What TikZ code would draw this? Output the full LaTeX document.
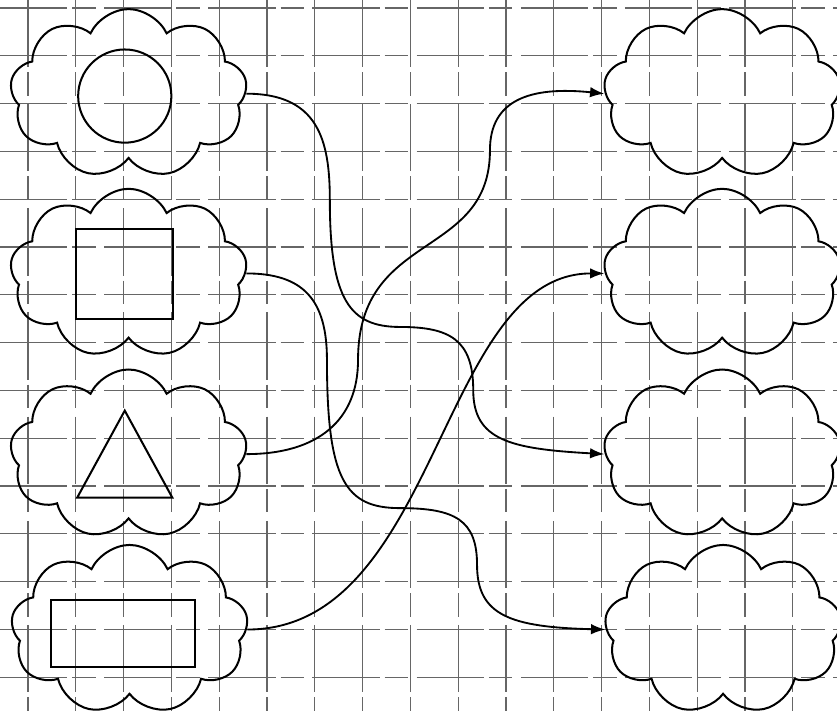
\documentclass[tikz,border=0pt]{standalone}
\usepackage{tikz}
\usetikzlibrary{shapes.symbols, arrows.meta, positioning, calc}

\begin{document}
\begin{tikzpicture}[
  cloudbox/.style={cloud, cloud puffs=9, cloud puff arc=130, aspect=1.4,
    draw, line width=1.2pt,
    minimum width=4.96cm, minimum height=3.54cm, inner sep=0pt},
  figline/.style={draw, line width=1.2pt, inner sep=0pt},
  arr/.style={-{Latex[length=3mm, width=2.2mm]}, line width=1.1pt},
  gridline/.style={black!60, line width=0.7pt,
    dash pattern=on 40pt off 3pt on 14pt off 5pt}
]
  \useasboundingbox (0,0) rectangle (17.51,-14.87);

  % squared paper
  \foreach \i in {0,...,16}
    \draw[gridline] (0.586+\i,0) -- (0.586+\i,-14.87);
  \foreach \j in {0,...,14}
    \draw[gridline] (0,-0.167-\j) -- (17.51,-0.167-\j);

  % Left: clouds with figures
  \node[cloudbox] (l1) at (2.69,-1.96) {};
  \node[cloudbox] (l2) at (2.69,-5.72) {};
  \node[cloudbox] (l3) at (2.69,-9.50) {};
  \node[cloudbox] (l4) at (2.71,-13.17) {};

  \node[figline, circle, minimum size=1.95cm] (circ) at ($(l1)+(-0.08,-0.05)$) {};
  \node[figline, minimum width=2.03cm, minimum height=1.88cm] (sq) at ($(l2)+(-0.08,-0.01)$) {};
  \draw[figline] ($(l3)+(-0.08,0.91)$) coordinate (tri) -- ++(0.995,-1.82) -- ++(-1.99,0) -- cycle;
  \node[figline, minimum width=3.01cm, minimum height=1.40cm] (rect) at ($(l4)+(-0.14,-0.08)$) {};

  % Right: empty clouds
  \node[cloudbox, right=7.49cm of l1] (r1) {};
  \node[cloudbox, right=7.49cm of l2] (r2) {};
  \node[cloudbox, right=7.49cm of l3] (r3) {};
  \node[cloudbox, right=7.49cm of l4] (r4) {};

  % matching lines
  \draw[arr] (l1.east) .. controls +(1.5,0) and (6.90,-2.93) .. (6.90,-4.18)
    .. controls (6.90,-6.28) and (7.32,-6.84) .. (8.37,-6.84)
    .. controls (9.41,-6.84) and (9.90,-7.11) .. (9.90,-8.16)
    .. controls (9.90,-9.21) and (10.67,-9.39) .. (r3.west);
  \draw[arr] (l2.east) .. controls +(1.2,0) and (6.84,-6.28) .. (6.84,-7.53)
    .. controls (6.84,-10.04) and (7.22,-10.63) .. (8.37,-10.63)
    .. controls (9.52,-10.63) and (9.98,-10.88) .. (9.98,-11.82)
    .. controls (9.98,-12.87) and (10.67,-13.12) .. (r4.west);
  \draw[arr] (l3.east) .. controls +(1.5,0) and (7.49,-8.79) .. (7.49,-7.53)
    .. controls (7.49,-4.81) and (10.25,-5.44) .. (10.25,-3.14)
    .. controls (10.25,-2.09) and (11.09,-1.80) .. (r1.west);
  \draw[arr] (l4.east) .. controls +(4.0,0) and +(-3.45,0) .. (r2.west);
\end{tikzpicture}
\end{document}
